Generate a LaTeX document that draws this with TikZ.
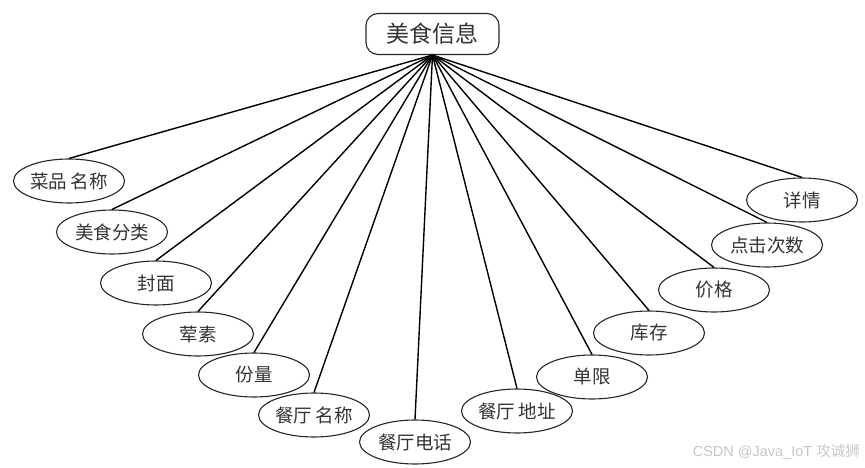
\documentclass[tikz,border=0pt]{standalone}
\usepackage{fontspec}
\setmainfont{Liberation Sans}
\newfontfamily\cjk{Noto Sans CJK SC}
\usetikzlibrary{shapes.geometric}
\begin{document}
\begin{tikzpicture}[x=1pt,y=-1pt,
  attr/.style={ellipse,draw=black!85,line width=1.1pt,minimum width=111pt,minimum height=44pt,inner sep=0pt,font=\cjk\fontsize{18.5}{20}\selectfont,text=black!80},
  rootbox/.style={draw=black!85,line width=1.1pt,rounded corners=12pt,minimum width=133pt,minimum height=41pt,inner sep=0pt,font=\cjk\fontsize{23}{26}\selectfont,text=black!80},
  link/.style={draw=black,line width=1.4pt}]
\useasboundingbox (0,0) rectangle (865,468);
\node[rootbox] (root) at (432.5,34) {美食信息};
\node[attr] (a1) at (69,181) {菜品\,名称};
\node[attr] (a2) at (112,232) {美食分类};
\node[attr] (a3) at (156,283) {封面};
\node[attr] (a4) at (198,334) {荤素};
\node[attr] (a5) at (254,375) {份量};
\node[attr] (a6) at (314,415) {餐厅\,名称};
\node[attr] (a7) at (415,442) {餐厅电话};
\node[attr] (a8) at (517,411) {餐厅\,地址};
\node[attr] (a9) at (592,377) {单限};
\node[attr] (a10) at (649,333) {库存};
\node[attr] (a11) at (714,290) {价格};
\node[attr] (a12) at (767,245) {点击次数};
\node[attr] (a13) at (802,200) {详情};
\foreach \i in {1,...,13} \draw[link] (root.south) -- (a\i.north);
\node[anchor=east,inner sep=0pt,text=black!22,font=\fontsize{14.5}{16}\selectfont] (wm) at (860,452) {CSDN @Java\_IoT {\cjk 攻诚狮}};
\end{tikzpicture}
\end{document}
